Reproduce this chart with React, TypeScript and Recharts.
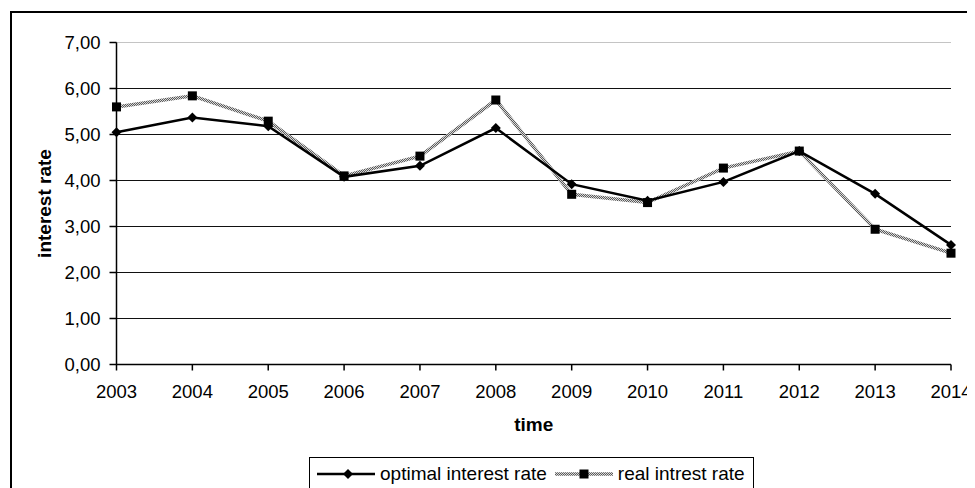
import React from 'react';
import {
  LineChart,
  Line,
  XAxis,
  YAxis,
  CartesianGrid,
  Legend,
  Label,
  ReferenceLine,
} from 'recharts';

const years = ['2003', '2004', '2005', '2006', '2007', '2008', '2009', '2010', '2011', '2012', '2013', '2014'];
const optimalRate = [5.05, 5.37, 5.18, 4.08, 4.32, 5.14, 3.92, 3.56, 3.97, 4.64, 3.71, 2.6];
const realRate = [5.6, 5.84, 5.29, 4.1, 4.53, 5.75, 3.7, 3.52, 4.27, 4.64, 2.94, 2.42];
const yTicks = [0, 1, 2, 3, 4, 5, 6, 7];

const chartData = years.map((year, i) => ({
  year,
  optimal: optimalRate[i],
  real: realRate[i],
}));

const FONT = '"Liberation Sans", Arial, sans-serif';

const formatRate = (v: number) => v.toFixed(2).replace('.', ',');

// diamond marker for the optimal series
const Diamond = ({ cx, cy }: { cx?: number; cy?: number }) => {
  if (cx == null || cy == null) return null;
  const r = 5;
  return (
    <path
      d={`M${cx},${cy - r}L${cx + r},${cy}L${cx},${cy + r}L${cx - r},${cy}Z`}
      fill="#000"
    />
  );
};

// square marker for the real series
const Square = ({ cx, cy }: { cx?: number; cy?: number }) => {
  if (cx == null || cy == null) return null;
  const h = 4.5;
  return <rect x={cx - h} y={cy - h} width={h * 2} height={h * 2} fill="#000" />;
};

const Checker = ({ id }: { id: string }) => (
  <pattern id={id} width={2} height={2} patternUnits="userSpaceOnUse">
    <rect width={2} height={2} fill="#d8d8d8" />
    <rect width={1} height={1} fill="#5a5a5a" />
    <rect x={1} y={1} width={1} height={1} fill="#5a5a5a" />
  </pattern>
);

const LegendBox = () => (
  <div
    style={{
      border: '1px solid #000',
      padding: '5px 8px 20px 7px',
      display: 'flex',
      alignItems: 'center',
      fontFamily: FONT,
      fontSize: 19,
      lineHeight: '22px',
      color: '#000',
      background: '#fff',
      whiteSpace: 'nowrap',
    }}
  >
    <svg width={58} height={12} style={{ marginRight: 5 }}>
      <line x1={0} y1={6} x2={58} y2={6} stroke="#000" strokeWidth={2.5} />
      <Diamond cx={31} cy={6} />
    </svg>
    <span style={{ marginRight: 8 }}>optimal interest rate</span>
    <svg width={58} height={12} style={{ marginRight: 5 }}>
      <defs>
        <Checker id="chkLegend" />
      </defs>
      <line x1={0} y1={6} x2={58} y2={6} stroke="url(#chkLegend)" strokeWidth={3.5} />
      <Square cx={29} cy={6} />
    </svg>
    <span>real intrest rate</span>
  </div>
);

export default function App() {
  return (
    <div style={{ paddingTop: 3, paddingLeft: 2 }}>
      <div
        style={{
          borderTop: '2px solid #000',
          borderLeft: '2px solid #000',
          width: 963,
          height: 475,
          background: '#fff',
        }}
      >
        <LineChart
          width={963}
          height={475}
          data={chartData}
          margin={{ top: 29.5, right: 24, left: 0, bottom: 63.5 }}
          style={{ fontFamily: FONT }}
        >
          <defs>
            <Checker id="chk" />
          </defs>
          <CartesianGrid vertical={false} stroke="#111" strokeWidth={1} />
          <ReferenceLine y={7} stroke="#c4c4c4" strokeWidth={1} />
          <XAxis
            dataKey="year"
            height={60}
            tickSize={6}
            tickMargin={14}
            axisLine={{ stroke: '#000', strokeWidth: 1.5 }}
            tickLine={{ stroke: '#000', strokeWidth: 1.5 }}
            tick={{ fill: '#000', fontSize: 18.5, fontFamily: FONT }}
            interval={0}
          >
            <Label
              content={({ viewBox }: any) => (
                <text
                  x={viewBox.x + viewBox.width / 2}
                  y={411}
                  textAnchor="middle"
                  dominantBaseline="central"
                  fontFamily={FONT}
                  fontSize={19}
                  fontWeight="bold"
                  fill="#000"
                >
                  time
                </text>
              )}
            />
          </XAxis>
          <YAxis
            width={104.5}
            domain={[0, 7]}
            ticks={yTicks}
            tickFormatter={formatRate}
            tickSize={7}
            tickMargin={9}
            axisLine={{ stroke: '#000', strokeWidth: 1.5 }}
            tickLine={{ stroke: '#000', strokeWidth: 1.5 }}
            tick={{ fill: '#000', fontSize: 18.5, fontFamily: FONT }}
          >
            <Label
              content={({ viewBox }: any) => (
                <text
                  x={32}
                  y={viewBox.y + viewBox.height / 2}
                  textAnchor="middle"
                  dominantBaseline="central"
                  fontFamily={FONT}
                  fontSize={19}
                  fontWeight="bold"
                  fill="#000"
                  transform={`rotate(-90 32 ${viewBox.y + viewBox.height / 2})`}
                >
                  interest rate
                </text>
              )}
            />
          </YAxis>
          <Legend
            verticalAlign="middle"
            align="center"
            content={() => <LegendBox />}
            wrapperStyle={{ top: 444, left: 297, width: 'auto', bottom: 'auto' }}
          />
          <Line
            dataKey="real"
            name="real intrest rate"
            stroke="url(#chk)"
            strokeWidth={3.5}
            dot={<Square />}
            activeDot={false}
            isAnimationActive={false}
          />
          <Line
            dataKey="optimal"
            name="optimal interest rate"
            stroke="#000"
            strokeWidth={2.5}
            dot={<Diamond />}
            activeDot={false}
            isAnimationActive={false}
          />
        </LineChart>
      </div>
    </div>
  );
}
